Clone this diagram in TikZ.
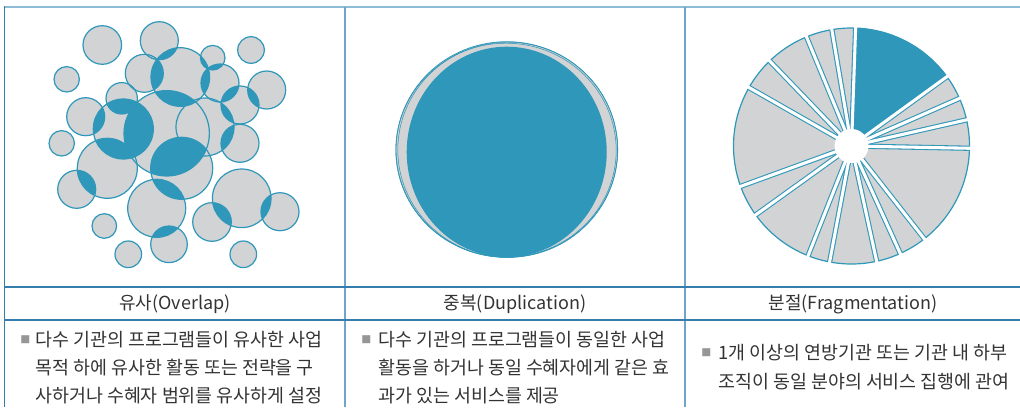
\documentclass[tikz,border=0pt]{standalone}
\usepackage{fontspec}
\setmainfont{Noto Sans CJK KR}
\definecolor{cblue}{RGB}{47,151,186}
\definecolor{cgray}{RGB}{209,211,212}
\definecolor{topline}{RGB}{141,188,214}
\definecolor{tline}{RGB}{52,125,172}
\definecolor{vline}{RGB}{110,165,200}
\definecolor{txt}{RGB}{51,51,51}
\definecolor{bul}{RGB}{150,150,150}
\def\ciA{(102.3,-45) circle (19.3)}
\def\ciB{(159.3,-40.7) circle (19)}
\def\ciC{(251,-50) circle (13.3)}
\def\ciD{(66.7,-79.3) circle (12.7)}
\def\ciE{(144.3,-73.3) circle (19)}
\def\ciF{(180.3,-77) circle (29.3)}
\def\ciG{(212.7,-57.7) circle (12.3)}
\def\ciH{(220,-83) circle (19)}
\def\ciI{(266.7,-90) circle (19)}
\def\ciJ{(240,-105) circle (19)}
\def\ciK{(121.7,-98.3) circle (15.7)}
\def\ciL{(85.7,-116.7) circle (19)}
\def\ciM{(123.3,-129) circle (30)}
\def\ciN{(166.7,-133.3) circle (42.7)}
\def\ciO{(205,-127) circle (29)}
\def\ciP{(181.7,-168.3) circle (31)}
\def\ciQ{(156.7,-208.3) circle (29)}
\def\ciR{(107.3,-168.3) circle (30)}
\def\ciS{(76.7,-189.3) circle (19)}
\def\ciT{(61.7,-143.3) circle (12.7)}
\def\ciU{(240,-143.3) circle (19)}
\def\ciV{(104.3,-226) circle (12.3)}
\def\ciW{(128.3,-254.3) circle (13.3)}
\def\ciX{(169,-244.3) circle (18.3)}
\def\ciY{(212,-222) circle (19.3)}
\def\ciZ{(241.7,-198.3) circle (29.3)}
\def\ciAA{(280,-211.7) circle (19)}
\def\ciAB{(243.3,-254.3) circle (13.3)}
\newcommand\lensfill[2]{\begin{scope}\clip #1; \fill[cblue] #2;\end{scope}}
\tikzset{
  bubble/.style={draw=cblue,line width=0.9pt},
  head/.style={font=\fontsize{13.5pt}{15pt}\selectfont,text=txt,inner sep=0pt},
  body/.style={font=\fontsize{13.8pt}{15pt}\selectfont,text=txt,anchor=west,inner sep=0pt},
  bullet/.style={font=\fontsize{7.5pt}{9pt}\selectfont,text=bul,anchor=west,inner sep=0pt}
}
\begin{document}
\begin{tikzpicture}[x=0.75pt,y=0.75pt]
\useasboundingbox (0,0) rectangle (1020,-407);
% ---------- panel 1: overlapping bubbles ----------
\foreach \c in {\ciA,\ciB,\ciC,\ciD,\ciE,\ciF,\ciG,\ciH,\ciI,\ciJ,\ciK,\ciL,\ciM,\ciN,\ciO,\ciP,\ciQ,\ciR,\ciS,\ciT,\ciU,\ciV,\ciW,\ciX,\ciY,\ciZ,\ciAA,\ciAB}
  \fill[cgray] \c;
\lensfill{\ciB}{\ciF}
\lensfill{\ciE}{\ciF}
\lensfill{\ciG}{\ciF}
\lensfill{\ciH}{\ciF}
\lensfill{\ciN}{\ciF}
\lensfill{\ciG}{\ciH}
\lensfill{\ciH}{\ciJ}
\lensfill{\ciI}{\ciJ}
\lensfill{\ciJ}{\ciO}
\lensfill{\ciO}{\ciU}
\lensfill{\ciK}{\ciM}
\lensfill{\ciL}{\ciM}
\lensfill{\ciN}{\ciM}
\lensfill{\ciR}{\ciM}
\lensfill{\ciN}{\ciP}
\lensfill{\ciP}{\ciQ}
\lensfill{\ciR}{\ciS}
\lensfill{\ciQ}{\ciX}
\lensfill{\ciY}{\ciZ}
\lensfill{\ciZ}{\ciAA}
\foreach \c in {\ciA,\ciB,\ciC,\ciD,\ciE,\ciF,\ciG,\ciH,\ciI,\ciJ,\ciK,\ciL,\ciM,\ciN,\ciO,\ciP,\ciQ,\ciR,\ciS,\ciT,\ciU,\ciV,\ciW,\ciX,\ciY,\ciZ,\ciAA,\ciAB}
  \draw[bubble] \c;
% ---------- panel 2: duplication ----------
\fill[cgray] (506.8,-149.5) ellipse [x radius=110.8, y radius=107.8];
\draw[cblue,line width=0.6pt] (506.8,-149.5) ellipse [x radius=110.8, y radius=107.8];
\draw[cblue,line width=0.4pt] (507.8,-149.8) ellipse [x radius=110, y radius=107.6];
\draw[cblue,line width=0.4pt] (506,-150.2) ellipse [x radius=110.2, y radius=107];
\fill[cblue] (506.7,-152) ellipse [x radius=100, y radius=105.3];
% ---------- panel 3: fragmentation ----------
\begin{scope}[shift={(851.5,-146)}]
  \begin{scope}
    \clip (0,0) circle (118);
    \fill[cgray] (0,0) circle (118);
    \fill[cblue] (0,0) -- (88:118) arc[start angle=88,end angle=36,radius=118] -- cycle;
    \foreach \a in {88,36,23.8,12.8,-1.1,-51.9,-65.6,-77.7,-100.7,-111.6,-144.3,-160,150.3,133.9,112.4,99.6}
      \draw[cblue,line width=3.9pt] (0,0) -- (\a:125);
  \end{scope}
  \draw[cblue,line width=0.9pt] (0,0) circle (118);
  \foreach \a in {88,36,23.8,12.8,-1.1,-51.9,-65.6,-77.7,-100.7,-111.6,-144.3,-160,150.3,133.9,112.4,99.6}
    \draw[white,line width=2.3pt] (0,0) -- (\a:123);
  \fill[white] (0,0) circle (17);
\end{scope}
% ---------- table lines ----------
\draw[topline,line width=1.5pt] (4,-7) -- (1020,-7);
\draw[tline,line width=1.1pt] (4.5,-6) -- (4.5,-407);
\draw[vline,line width=0.9pt] (345,-7) -- (345,-407);
\draw[vline,line width=0.9pt] (685,-7) -- (685,-407);
\draw[tline,line width=1.1pt] (4,-287) -- (1020,-287);
\draw[tline,line width=1.1pt] (4,-320) -- (1020,-320);
% ---------- headers ----------
\node[head] (h1) at (175,-304) {유사(Overlap)};
\node[head] (h2) at (515,-304) {중복(Duplication)};
\node[head] (h3) at (853,-304) {분절(Fragmentation)};
% ---------- body texts ----------
\node[bullet] (b1) at (20,-340) {■};
\node[body] (t11) at (35,-340) {다수 기관의 프로그램들이 유사한 사업};
\node[body] (t12) at (35,-368) {목적 하에 유사한 활동 또는 전략을 구};
\node[body] (t13) at (35,-396) {사하거나 수혜자 범위를 유사하게 설정};
\node[bullet] (b2) at (361,-340) {■};
\node[body] (t21) at (378,-340) {다수 기관의 프로그램들이 동일한 사업};
\node[body] (t22) at (378,-368) {활동을 하거나 동일 수혜자에게 같은 효};
\node[body] (t23) at (378,-396) {과가 있는 서비스를 제공};
\node[bullet] (b3) at (701,-353) {■};
\node[body] (t31) at (718,-353) {1개 이상의 연방기관 또는 기관 내 하부};
\node[body] (t32) at (718,-382) {조직이 동일 분야의 서비스 집행에 관여};
\end{tikzpicture}
\end{document}
